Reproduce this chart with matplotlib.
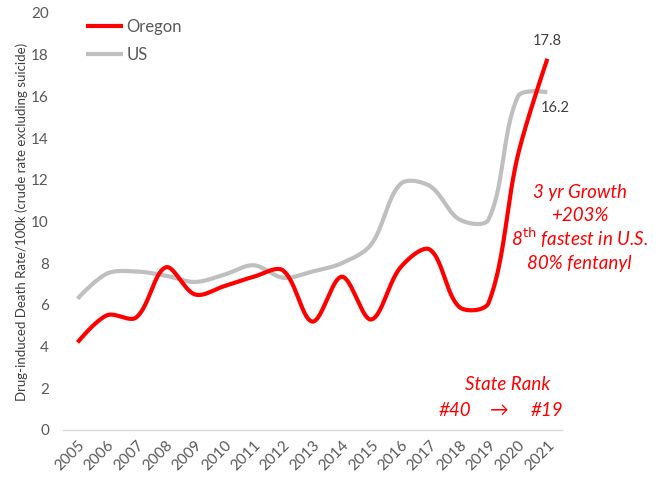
import numpy as np
import matplotlib.pyplot as plt

years = list(range(2005, 2022))
oregon = [4.2, 5.5, 5.4, 7.8, 6.5, 6.9, 7.35, 7.65, 5.2, 7.35, 5.3, 7.8, 8.65, 5.9, 6.1, 13.2, 17.8]
us = [6.3, 7.5, 7.6, 7.4, 7.1, 7.45, 7.9, 7.3, 7.6, 8.0, 8.9, 11.8, 11.7, 10.1, 10.1, 16.0, 16.2]
yticks = [0, 2, 4, 6, 8, 10, 12, 14, 16, 18, 20]


def smooth(x, y, n=40, sx=29.5, sy=20.85):
    # Excel-like smoothed line: bezier with control points scaled by segment length
    p = np.column_stack([np.asarray(x, float) * sx, np.asarray(y, float) * sy])
    m = len(p)
    out = []
    t = np.linspace(0, 1, n)[:, None]
    for i in range(m - 1):
        p1, p2 = p[i], p[i + 1]
        p0 = p[i - 1] if i > 0 else p1
        p3 = p[i + 2] if i + 2 < m else p2
        d01 = np.hypot(*(p1 - p0))
        d12 = np.hypot(*(p2 - p1))
        d23 = np.hypot(*(p3 - p2))
        c1 = p1 + (p2 - p0) * (d12 / (d01 + d12) / 3 if d01 > 0 else 0)
        c2 = p2 - (p3 - p1) * (d12 / (d12 + d23) / 3 if d23 > 0 else 0)
        b = (1 - t) ** 3 * p1 + 3 * (1 - t) ** 2 * t * c1 + 3 * (1 - t) * t ** 2 * c2 + t ** 3 * p2
        out.append(b)
    b = np.vstack(out)
    return b[:, 0] / sx, b[:, 1] / sy


plt.rcParams['font.family'] = ['Lato', 'DejaVu Sans']

fig = plt.figure(figsize=(6.62, 4.79), dpi=100)
ax = fig.add_axes([0.095, 0.1023, 0.754, 0.8707])

gx, gy = smooth(years, us)
rx, ry = smooth(years, oregon)
ax.plot(gx, gy, color='#BFBFBF', lw=3, solid_capstyle='butt', label='US', zorder=2)
ax.plot(rx, ry, color='#FF0000', lw=3, solid_capstyle='butt', label='Oregon', zorder=3)

ax.set_xlim(2004.5, 2021.5)
ax.set_ylim(0, 20)
ax.set_yticks(yticks)
ax.set_xticks(years)
ax.set_xticklabels([str(y) for y in years], rotation=45, ha='right', rotation_mode='anchor')
ax.tick_params(axis='both', length=0, colors='#595959', labelsize=11)
ax.tick_params(axis='y', pad=10)
ax.tick_params(axis='x', pad=6)
for s in ['top', 'right', 'left']:
    ax.spines[s].set_visible(False)
ax.spines['bottom'].set_color('#D9D9D9')
ax.spines['bottom'].set_linewidth(1)

ax.set_ylabel('Drug-induced Death Rate/100k (crude rate excluding suicide)',
              fontsize=9.5, color='#404040', labelpad=2)

handles, labels = ax.get_legend_handles_labels()
ax.legend(handles[::-1], labels[::-1], loc='upper left', bbox_to_anchor=(0.017, 1.022),
          frameon=False, fontsize=12, handlelength=2.2, handletextpad=0.2,
          labelspacing=0.75, labelcolor='#595959')

ax.annotate('17.8', (years[-1], oregon[-1]), xytext=(0, 8), textcoords='offset points',
            ha='center', va='bottom', fontsize=10.5, color='#404040')
ax.annotate('16.2', (years[-1], us[-1]), xytext=(6, -6), textcoords='offset points',
            ha='center', va='top', fontsize=10.5, color='#404040')

red_txt = dict(color='#FF0000', fontsize=13.5, style='italic', ha='center', va='center')
ax.text(2022.1, 11.4, '3 yr Growth', **red_txt)
ax.text(2022.1, 10.3, '+203%', **red_txt)
ax.text(2022.1, 9.2, '8$^{\\mathrm{th}}$ fastest in U.S.', **red_txt)
ax.text(2022.1, 8.0, '80% fentanyl', **red_txt)
ax.text(2019.65, 2.2, 'State Rank', **red_txt)
ax.text(2017.85, 0.95, '#40', **red_txt)
ax.text(2019.35, 0.95, '\u2192', **red_txt)
ax.text(2021.0, 0.95, '#19', **red_txt)

fig.savefig('out.png', dpi=100)
